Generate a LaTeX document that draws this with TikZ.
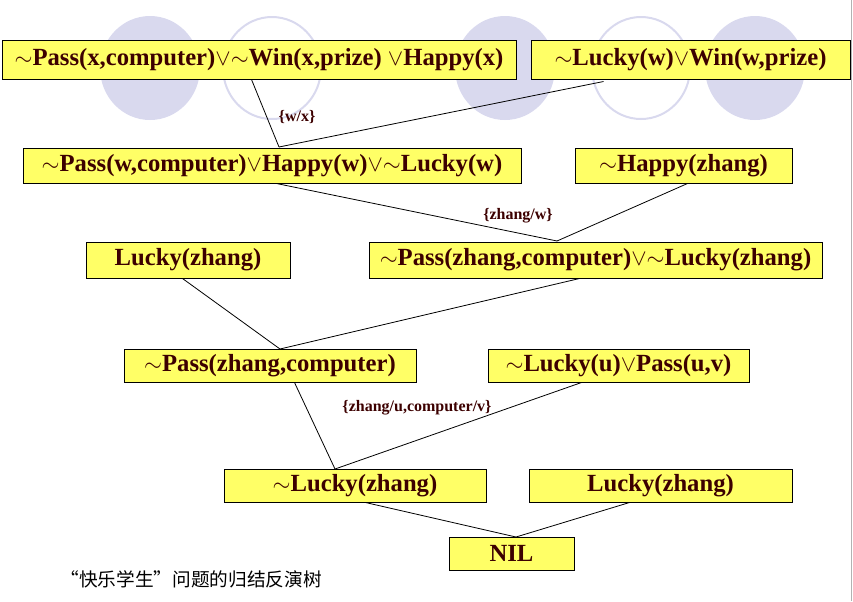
\documentclass[tikz,border=0pt]{standalone}
\usepackage{fontspec}
\setmainfont{Liberation Serif}
\newfontfamily\cjk{Noto Sans CJK SC}
\definecolor{boxfill}{RGB}{255,255,102}
\definecolor{ink}{RGB}{60,0,0}
\definecolor{lav}{RGB}{217,217,238}
\newcommand{\nt}{$\sim$}
\newcommand{\orr}{$\vee$}
\tikzset{every picture/.style={line width=0.75pt}}
\tikzset{clause/.style={draw=black,fill=boxfill,inner sep=0pt,text=ink,font=\bfseries\fontsize{18.5}{21}\selectfont},
  subst/.style={text=ink,font=\bfseries\fontsize{12}{14}\selectfont,inner sep=0.75pt},
  link/.style={line width=0.6pt}}
\begin{document}
\begin{tikzpicture}[x=0.75pt,y=0.75pt,yscale=-1,xscale=1]
    \useasboundingbox (0,0) rectangle (853,601);
    % background circles
    \fill[lav] (150,68) ellipse (50 and 52);
    \fill[lav] (505,68) ellipse (50 and 52);
    \fill[lav] (755,68) ellipse (50 and 52);
    \draw[lav,line width=1.5pt] (272,68) ellipse (49 and 51);
    \draw[lav,line width=1.5pt] (641,68) ellipse (49 and 51);
    \draw[gray!60] (851,0) -- (851,601);
    
    % Clauses
    \node[clause,minimum width=385.5pt,minimum height=29.25pt] (a) at (259,59.5) {\nt Pass(x,computer)\orr\nt Win(x,prize) \orr Happy(x)};
    \node[clause,minimum width=239.25pt,minimum height=29.25pt] (b) at (690.5,59.5) {\nt Lucky(w)\orr Win(w,prize)};
    \node[clause,minimum width=373.5pt,minimum height=26.25pt] (c) at (272,165.5) {\nt Pass(w,computer)\orr Happy(w)\orr\nt Lucky(w)};
    \node[clause,minimum width=162.75pt,minimum height=26.25pt] (d) at (683.5,165.5) {\nt Happy(zhang)};
    \node[clause,minimum width=153pt,minimum height=27pt] (e) at (188,260) {Lucky(zhang)};
    \node[clause,minimum width=339.75pt,minimum height=27pt] (f) at (595.5,260) {\nt Pass(zhang,computer)\orr\nt Lucky(zhang)};
    \node[clause,minimum width=219pt,minimum height=24.75pt] (g) at (270,365.5) {\nt Pass(zhang,computer)};
    \node[clause,minimum width=195.75pt,minimum height=24.75pt] (h) at (618.5,365.5) {\nt Lucky(u)\orr Pass(u,v)};
    \node[clause,minimum width=196.5pt,minimum height=24.75pt] (i) at (355,485.5) {\nt Lucky(zhang)};
    \node[clause,minimum width=197.25pt,minimum height=24.75pt] (j) at (660.5,485.5) {Lucky(zhang)};
    \node[clause,minimum width=93.75pt,minimum height=24.75pt] (k) at (511.5,553.5) {NIL};
    
    % Resolution links
    \coordinate (ab) at (279,147);
    \coordinate (cd) at (557,241);
    \coordinate (ef) at (280,349);
    \coordinate (gh) at (335,469);
    \coordinate (ij) at (516,537);
    \draw[link] (a.south west) ++(250,0) -- (ab);
    \draw[link] (b.south west) ++(73,2) -- (ab);
    \draw[link] (c.south west) ++(254,0) -- (cd);
    \draw[link] (d.south west) ++(113,0) -- (cd);
    \draw[link] (e.south west) ++(97,0) -- (ef);
    \draw[link] (f.south west) ++(211,0) -- (ef);
    \draw[link] (g.south west) ++(171,0) -- (gh);
    \draw[link] (h.south west) ++(94,0) -- (gh);
    \draw[link] (i.south west) ++(142,0) -- (ij);
    \draw[link] (j.south west) ++(101,0) -- (ij);
    
    % Substitutions
    \node[subst] (s1) at (297,117) {\{w/x\}};
    \node[subst] (s2) at (518,216) {\{zhang/w\}};
    \node[subst] (s3) at (417,408) {\{zhang/u,computer/v\}};
    
    % Caption
    \node[anchor=west,inner sep=0pt,font=\cjk\fontsize{14}{16}\selectfont] (cap) at (60,579) {“快乐学生”问题的归结反演树};
\end{tikzpicture}
\end{document}
